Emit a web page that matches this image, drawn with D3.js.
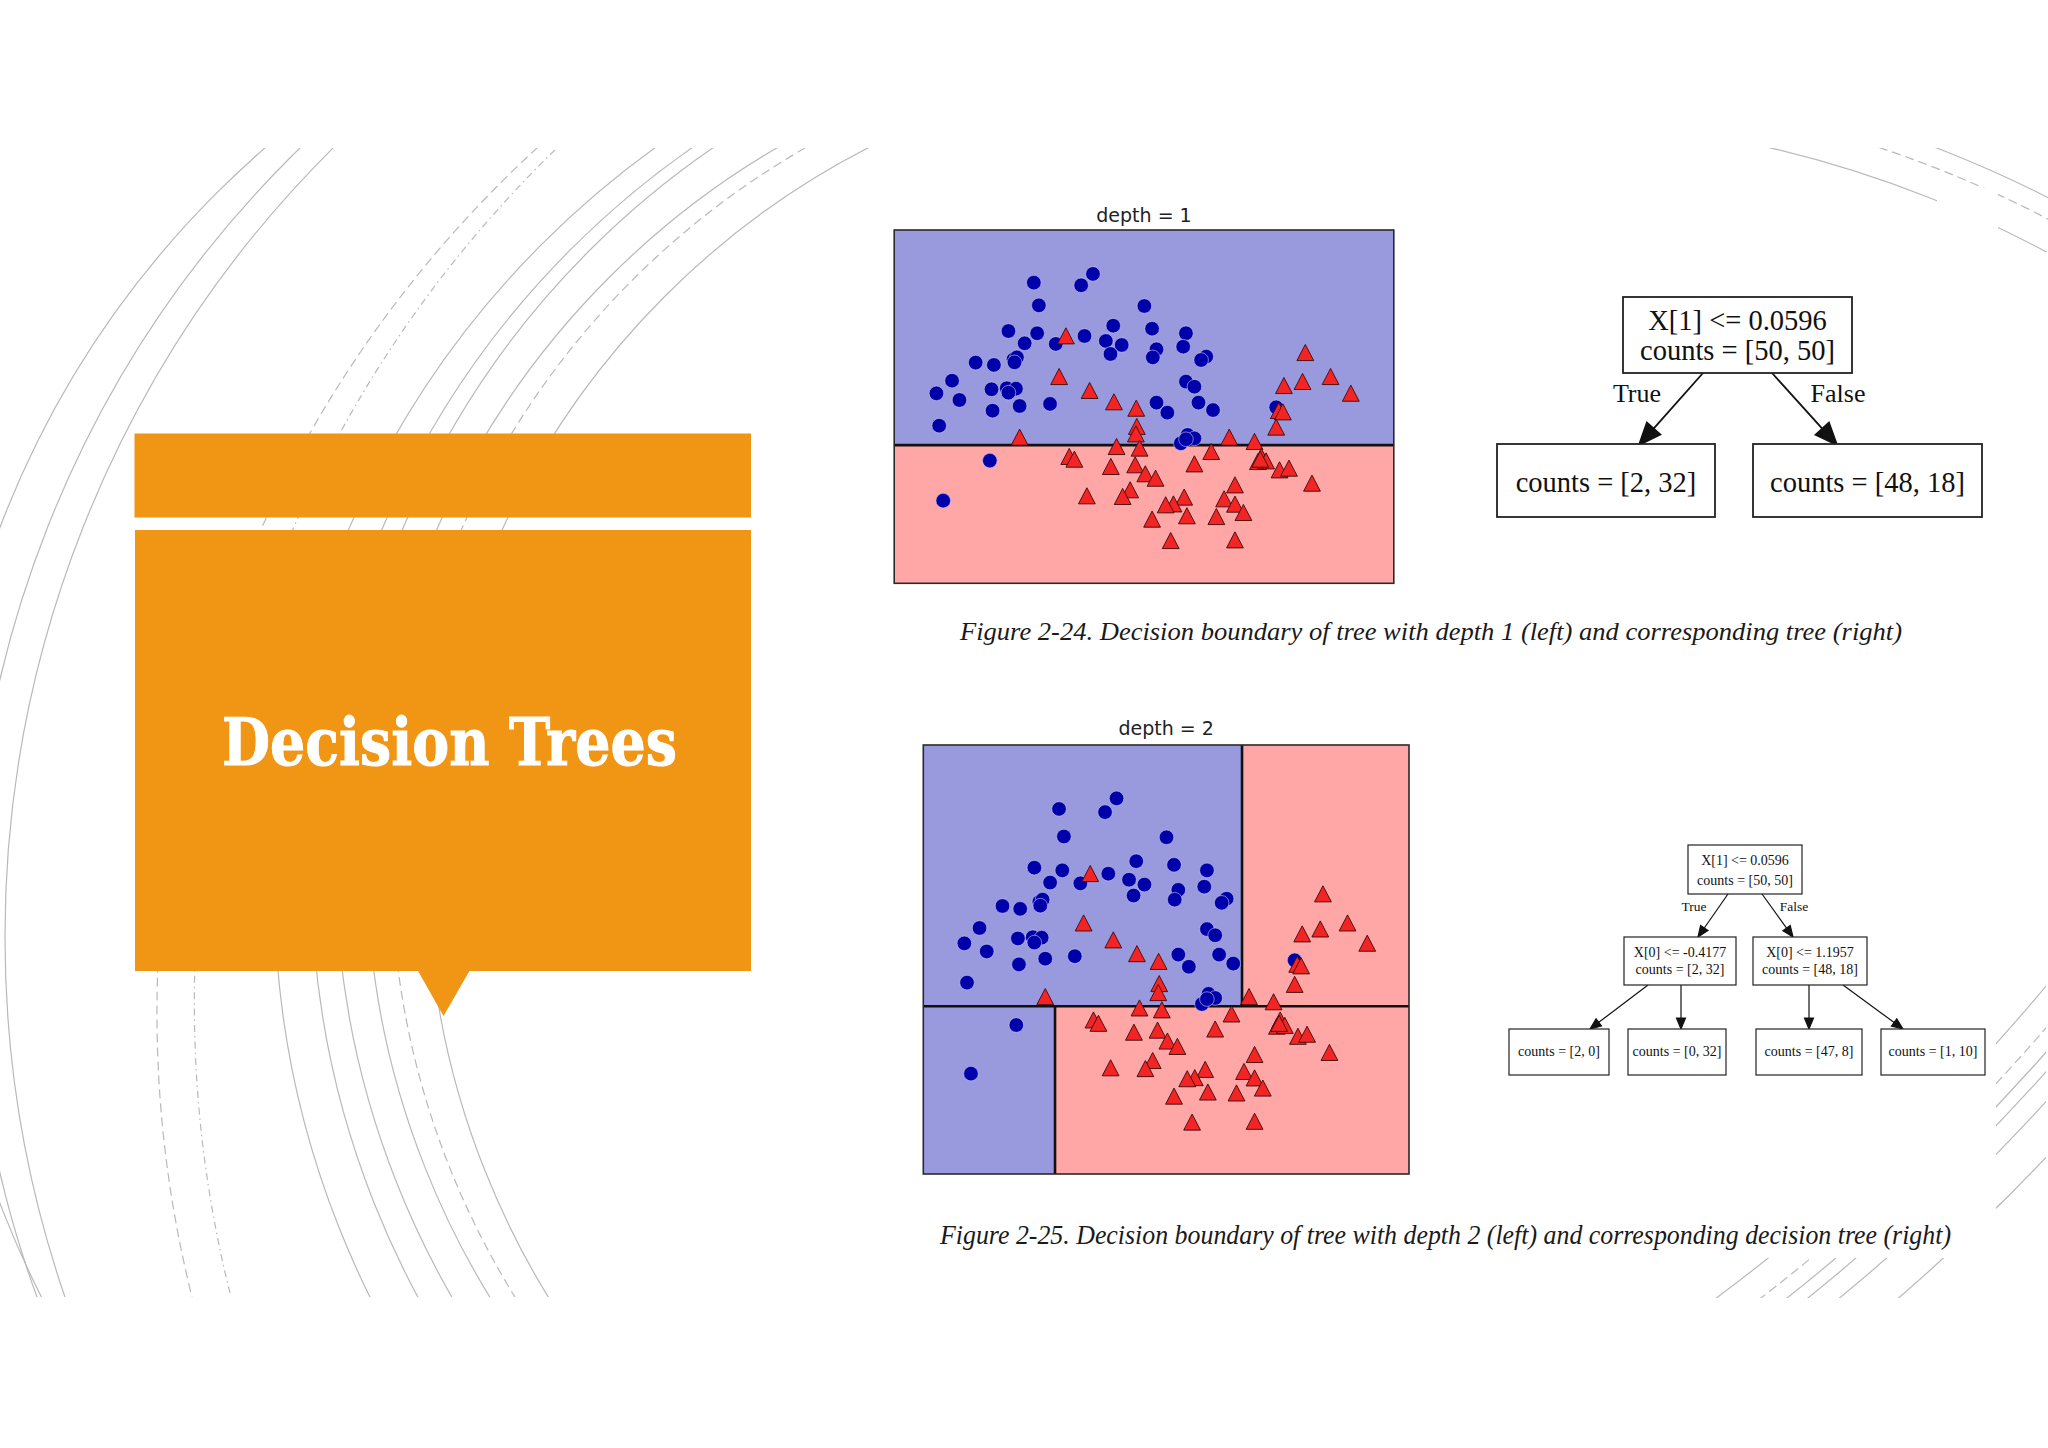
<!DOCTYPE html>
<html><head><meta charset="utf-8">
<script src="https://cdn.jsdelivr.net/npm/d3@7"></script>
<style>html,body{margin:0;padding:0;background:#fff;} svg{display:block;}</style>
</head><body>
<svg id="s" width="2048" height="1448"></svg>
<script>
// ================= DATA =================
// class 0 (blue circles): feature X[0], X[1]
const blueX = [-0.383,0.014,0.113,-0.341,0.544,-0.596,-0.355,-0.460,-0.199,0.042,0.283,0.221,0.354,0.260,0.609,0.646,0.615,0.893,0.870,1.063,1.020,-0.871,-0.718,-0.553,-0.525,-0.545,-1.069,-1.200,-1.007,-0.738,-0.610,-0.533,-0.596,-0.729,-0.502,-0.247,-1.177,0.893,0.964,0.998,1.120,0.646,0.737,1.650,0.907,0.964,0.850,0.893,-0.752,-1.143];
const blueY = [1.306,1.286,1.373,1.132,1.127,0.935,0.918,0.841,0.836,0.897,0.976,0.859,0.828,0.759,0.953,0.795,0.733,0.918,0.815,0.739,0.713,0.693,0.675,0.718,0.733,0.695,0.554,0.457,0.406,0.488,0.496,0.493,0.462,0.324,0.360,0.376,0.209,0.547,0.508,0.386,0.329,0.386,0.309,0.350,0.138,0.112,0.074,0.105,-0.059,-0.366];
// class 1 (red triangles)
const redX = [-0.114,-0.171,0.085,0.289,0.476,0.481,0.473,-0.502,1.894,1.715,1.871,2.106,2.276,1.672,1.706,1.650,1.256,1.468,
  0.311,0.504,-0.086,-0.043,0.263,0.467,0.552,0.638,0.964,1.105,1.525,1.497,1.565,1.678,1.757,1.950,1.304,1.213,1.304,1.375,1.148,0.878,0.788,0.723,0.901,0.609,0.425,0.362,0.062,0.765,1.304,1.516];
const redY = [0.897,0.585,0.478,0.391,0.342,0.202,0.145,0.120,0.769,0.516,0.547,0.585,0.457,0.324,0.314,0.197,0.120,0.087,
  0.048,0.036,-0.028,-0.049,-0.105,-0.092,-0.161,-0.195,-0.085,0.010,-0.028,-0.067,-0.062,-0.131,-0.118,-0.233,-0.246,-0.353,-0.394,-0.458,-0.489,-0.340,-0.392,-0.399,-0.483,-0.509,-0.284,-0.335,-0.330,-0.673,-0.668,-0.049];
const xDomain = [-1.5542, 2.6364];
const yDomain = [-1.0, 1.71];
const rootThreshold = 0.0596;   // X[1]
const leftThreshold = -0.4177;  // X[0]
const rightThreshold = 1.1957;  // X[0]
const plotTitles = ["depth = 1", "depth = 2"];
const tree1Labels = [["X[1] <= 0.0596","counts = [50, 50]"],["counts = [2, 32]"],["counts = [48, 18]"]];
const tree2Labels = [["X[1] <= 0.0596","counts = [50, 50]"],["X[0] <= -0.4177","counts = [2, 32]"],["X[0] <= 1.1957","counts = [48, 18]"],
  ["counts = [2, 0]"],["counts = [0, 32]"],["counts = [47, 8]"],["counts = [1, 10]"]];
const edgeLabels = ["True","False"];
const captions = ["Figure 2-24. Decision boundary of tree with depth 1 (left) and corresponding tree (right)",
  "Figure 2-25. Decision boundary of tree with depth 2 (left) and corresponding decision tree (right)"];
const slideTitle = "Decision Trees";

// ================= LAYOUT / STYLE =================
const svg = d3.select("#s");
const ORANGE = "#f19514";
const ARC = "#b9b9b9";
const defs = svg.append("defs");
function clip(id, rects){
  const c = defs.append("clipPath").attr("id", id);
  rects.forEach(r => c.append("rect").attr("x", r[0]).attr("y", r[1]).attr("width", r[2]).attr("height", r[3]));
}
clip("cL", [[0,148,880,1149]]);
clip("cTR", [[1766,148,171,104],[1937,148,61,40],[1998,148,50,104]]);
clip("cBR", [[1996,985,50,230],[1700,1258,262,40]]);

function circleFrom3(p1,p2,p3){
  const [x1,y1]=p1,[x2,y2]=p2,[x3,y3]=p3;
  const d = 2*(x1*(y2-y3)+x2*(y3-y1)+x3*(y1-y2));
  const a=x1*x1+y1*y1, b=x2*x2+y2*y2, c=x3*x3+y3*y3;
  const ux = (a*(y2-y3)+b*(y3-y1)+c*(y1-y2))/d;
  const uy = (a*(x3-x2)+b*(x1-x3)+c*(x2-x1))/d;
  return {cx:ux, cy:uy, r:Math.hypot(x1-ux,y1-uy)};
}
const dashes = {solid:null, dash:"9,5", dashdot:"7,4,1.5,4"};
// left decorative arcs defined by three guide points each
const leftArcs = [
  {p:[[265,148],[2,522],[-60,930]], s:"solid"},
  {p:[[300,148],[25,590],[37,1297]], s:"solid"},
  {p:[[333,148],[5,930],[65,1297]], s:"solid"},
  {p:[[537,148],[310,433],[192,1297]], s:"dash"},
  {p:[[557,148],[340,433],[230,1293]], s:"dashdot"},
  {p:[[655,148],[397,433],[370,1297]], s:"solid"},
  {p:[[692,148],[430,433],[418,1297]], s:"solid"},
  {p:[[713,148],[450,433],[452,1297]], s:"solid"},
  {p:[[777,148],[487,433],[490,1297]], s:"solid"},
  {p:[[805,148],[512,433],[515,1297]], s:"dash"},
  {p:[[868,148],[555,433],[520,1247]], s:"solid"}
];
const gL = svg.append("g").attr("clip-path","url(#cL)");
leftArcs.forEach(a => {
  const c = circleFrom3(...a.p);
  gL.append("circle").attr("cx",c.cx).attr("cy",c.cy).attr("r",c.r)
    .attr("fill","none").attr("stroke",ARC).attr("stroke-width",1.2)
    .attr("stroke-dasharray",dashes[a.s]);
});
const gTR = svg.append("g").attr("clip-path","url(#cTR)");
[[1119,"solid"],[1149,"dash"],[1168,"solid"]].forEach(([r,s]) => {
  gTR.append("circle").attr("cx",1517).attr("cy",1238).attr("r",r)
    .attr("fill","none").attr("stroke",ARC).attr("stroke-width",1.2).attr("stroke-dasharray",dashes[s]);
});
const gBR = svg.append("g").attr("clip-path","url(#cBR)");
[[1927,"solid"],[1954,"dash"],[1970,"solid"],[1983,"solid"],[2003,"solid"],[2041,"solid"]].forEach(([r,s]) => {
  gBR.append("circle").attr("cx",566).attr("cy",-248).attr("r",r)
    .attr("fill","none").attr("stroke",ARC).attr("stroke-width",1.2).attr("stroke-dasharray",dashes[s]);
});

// ---- orange title block ----
svg.append("rect").attr("x",134.5).attr("y",433.5).attr("width",616.5).attr("height",84).attr("fill",ORANGE);
svg.append("rect").attr("x",135).attr("y",530).attr("width",616).attr("height",441).attr("fill",ORANGE);
svg.append("path").attr("d","M417.5,970 L470,970 L443.5,1016 Z").attr("fill",ORANGE);
svg.append("text").attr("x",222).attr("y",765).attr("textLength",455).attr("lengthAdjust","spacingAndGlyphs")
  .attr("font-family","'DejaVu Serif', serif").attr("font-weight","bold").attr("font-size",66)
  .attr("fill","#fff").attr("stroke","#fff").attr("stroke-width",1).text(slideTitle);

// ---- scatter plots ----
function drawPlot(frame, depth, title){
  const g = svg.append("g");
  const x = d3.scaleLinear().domain(xDomain).range([frame.x0, frame.x1]);
  const y = d3.scaleLinear().domain(yDomain).range([frame.y1, frame.y0]);
  const BLUEBG = "#999ade", REDBG = "#ffa6a6";
  const yt = y(rootThreshold);
  if (depth === 1){
    g.append("rect").attr("x",frame.x0).attr("y",frame.y0).attr("width",frame.x1-frame.x0).attr("height",yt-frame.y0).attr("fill",BLUEBG);
    g.append("rect").attr("x",frame.x0).attr("y",yt).attr("width",frame.x1-frame.x0).attr("height",frame.y1-yt).attr("fill",REDBG);
  } else {
    const xr = x(rightThreshold), xl = x(leftThreshold);
    g.append("rect").attr("x",frame.x0).attr("y",frame.y0).attr("width",xr-frame.x0).attr("height",yt-frame.y0).attr("fill",BLUEBG);
    g.append("rect").attr("x",xr).attr("y",frame.y0).attr("width",frame.x1-xr).attr("height",yt-frame.y0).attr("fill",REDBG);
    g.append("rect").attr("x",frame.x0).attr("y",yt).attr("width",xl-frame.x0).attr("height",frame.y1-yt).attr("fill",BLUEBG);
    g.append("rect").attr("x",xl).attr("y",yt).attr("width",frame.x1-xl).attr("height",frame.y1-yt).attr("fill",REDBG);
  }
  // boundaries
  g.append("line").attr("x1",frame.x0).attr("x2",frame.x1).attr("y1",yt).attr("y2",yt).attr("stroke","#111").attr("stroke-width",2.6);
  if (depth === 2){
    g.append("line").attr("x1",x(rightThreshold)).attr("x2",x(rightThreshold)).attr("y1",frame.y0).attr("y2",yt).attr("stroke","#111").attr("stroke-width",2.6);
    g.append("line").attr("x1",x(leftThreshold)).attr("x2",x(leftThreshold)).attr("y1",yt).attr("y2",frame.y1).attr("stroke","#111").attr("stroke-width",2.6);
  }
  // points
  const blue = blueX.map((v,i)=>[v,blueY[i]]);
  const red = redX.map((v,i)=>[v,redY[i]]);
  g.selectAll(null).data(blue).enter().append("circle")
    .attr("cx",d=>x(d[0])).attr("cy",d=>y(d[1])).attr("r",7.3)
    .attr("fill","#0000aa").attr("stroke","#c8c8f0").attr("stroke-width",0.6);
  g.selectAll(null).data(red).enter().append("path")
    .attr("transform",d=>`translate(${x(d[0])},${y(d[1])})`)
    .attr("d","M0,-8.2 L8.4,7.9 L-8.4,7.9 Z")
    .attr("fill","#f42424").attr("stroke","#3a0a0a").attr("stroke-width",0.9);
  // frame
  g.append("rect").attr("x",frame.x0).attr("y",frame.y0).attr("width",frame.x1-frame.x0).attr("height",frame.y1-frame.y0)
    .attr("fill","none").attr("stroke","#2a2a2a").attr("stroke-width",1.6);
  g.append("text").attr("x",(frame.x0+frame.x1)/2).attr("y",frame.titleY).attr("text-anchor","middle")
    .attr("font-family","'DejaVu Sans', sans-serif").attr("font-size",19).attr("fill","#222").text(title);
}
drawPlot({x0:894.2,x1:1393.8,y0:230,y1:583.3,titleY:222}, 1, plotTitles[0]);
drawPlot({x0:923.3,x1:1409,y0:745,y1:1174,titleY:735}, 2, plotTitles[1]);

// ---- trees ----
function arrow(g, p0, p1, len, half, sw){
  const dx=p1[0]-p0[0], dy=p1[1]-p0[1], L=Math.hypot(dx,dy), ux=dx/L, uy=dy/L;
  const bx=p1[0]-ux*len, by=p1[1]-uy*len;
  g.append("line").attr("x1",p0[0]).attr("y1",p0[1]).attr("x2",bx).attr("y2",by).attr("stroke","#111").attr("stroke-width",sw);
  g.append("path").attr("d",`M${p1[0]},${p1[1]} L${bx-uy*half},${by+ux*half} L${bx+uy*half},${by-ux*half} Z`).attr("fill","#111").attr("stroke","#111").attr("stroke-width",sw);
}
function drawTree(labels, L){
  const g = svg.append("g");
  L.edges.forEach(e => arrow(g, e[0], e[1], L.arrowLen, L.arrowHalf, L.sw));
  labels.forEach((lines,i) => {
    const b = L.boxes[i];
    g.append("rect").attr("x",b[0]).attr("y",b[1]).attr("width",b[2]-b[0]).attr("height",b[3]-b[1])
      .attr("fill","#fff").attr("stroke","#222").attr("stroke-width",L.sw);
    lines.forEach((t,j) => {
      g.append("text").attr("x",(b[0]+b[2])/2).attr("y",L.textY[i][j]).attr("text-anchor","middle")
        .attr("font-family","'Liberation Serif', 'Times New Roman', serif").attr("font-size",L.font).attr("fill","#111").text(t);
    });
  });
  edgeLabels.forEach((t,i) => {
    g.append("text").attr("x",L.edgeLab[i][0]).attr("y",L.edgeLab[i][1]).attr("text-anchor","middle")
      .attr("font-family","'Liberation Serif', 'Times New Roman', serif").attr("font-size",L.labFont).attr("fill","#111").text(t);
  });
}
drawTree(tree1Labels, {
  boxes:[[1623,297,1852,373],[1497,444,1715,517],[1753,444,1982,517]],
  textY:[[330,360],[492],[492]],
  edges:[[[1703,373],[1639,445]],[[1772,373],[1837,445]]],
  edgeLab:[[1637,402],[1838,402]],
  font:28.5, labFont:26, sw:1.8, arrowLen:22, arrowHalf:9
});
drawTree(tree2Labels, {
  boxes:[[1688,845,1802,894],[1624,937,1736,985],[1753,937,1867,985],
         [1509,1029,1609,1075],[1628,1029,1726,1075],[1756,1029,1862,1075],[1881,1029,1985,1075]],
  textY:[[865,885],[957,974],[957,974],[1056],[1056],[1056],[1056]],
  edges:[[[1728,894],[1698,937]],[[1762,894],[1793,937]],
         [[1648,985],[1590,1029]],[[1681,985],[1681,1029]],
         [[1809,985],[1809,1029]],[[1843,985],[1903,1029]]],
  edgeLab:[[1694,911],[1794,911]],
  font:14, labFont:13.5, sw:1.2, arrowLen:11, arrowHalf:4.5
});

// ---- captions ----
[[960,640,942,captions[0],26],[940,1244,1011,captions[1],27]].forEach(([x,y,w,t,fs]) => {
  svg.append("text").attr("x",x).attr("y",y).attr("textLength",w).attr("lengthAdjust","spacingAndGlyphs")
    .attr("font-family","'Liberation Serif', 'Times New Roman', serif").attr("font-style","italic")
    .attr("font-size",fs).attr("fill","#1a1a1a").text(t);
});
</script>
</body></html>
